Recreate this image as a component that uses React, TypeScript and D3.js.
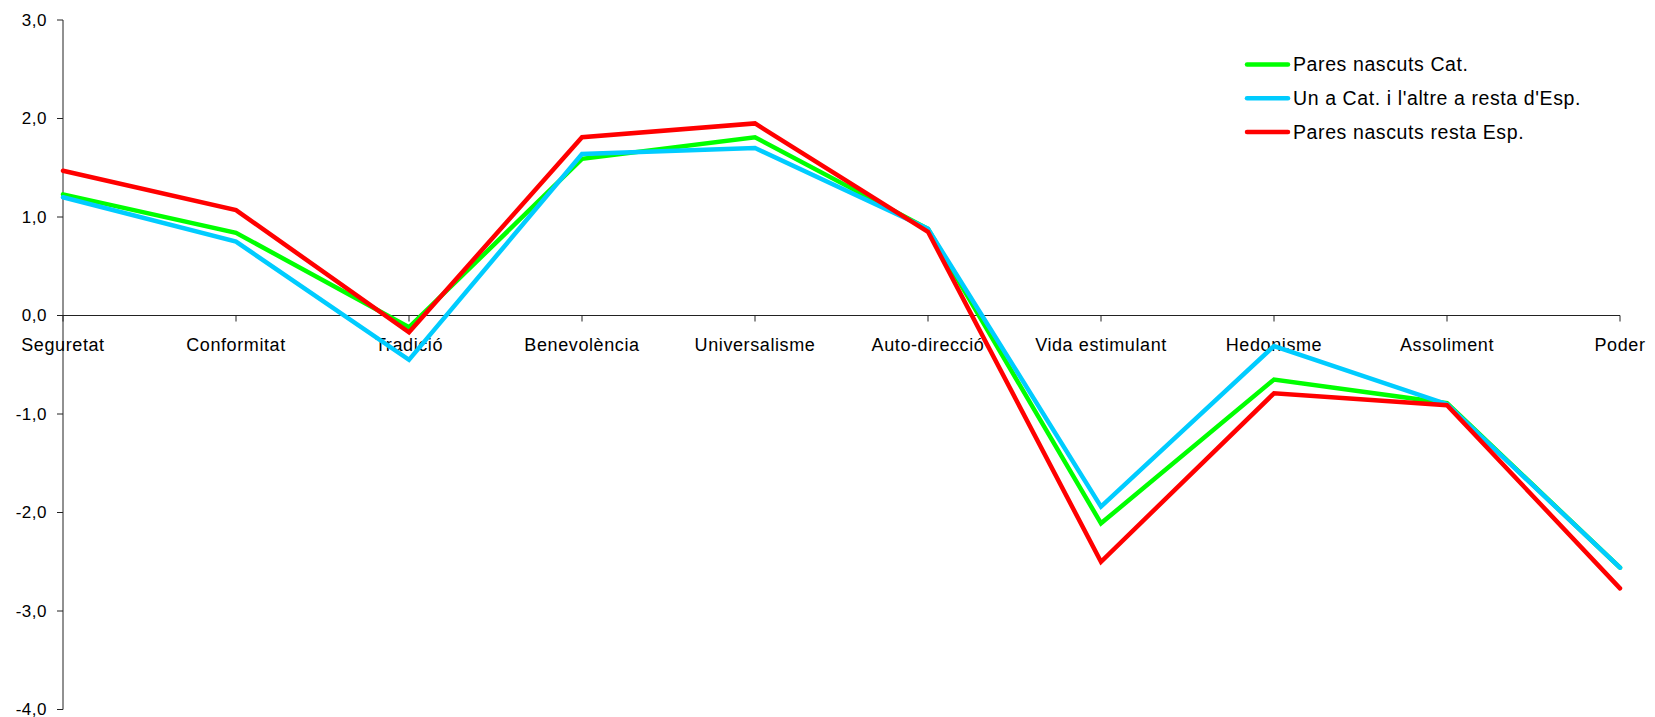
import React from "react";
import * as d3 from "d3";

const categories = [
  "Seguretat", "Conformitat", "Tradició", "Benevolència", "Universalisme",
  "Auto-direcció", "Vida estimulant", "Hedonisme", "Assoliment", "Poder",
];
const seriesNames = [
  "Pares nascuts Cat.",
  "Un a Cat. i l'altre a resta d'Esp.",
  "Pares nascuts resta Esp.",
];
const seriesColors = ["#00ff00", "#00ccff", "#ff0000"];
const greenValues = [1.23, 0.84, -0.12, 1.59, 1.81, 0.88, -2.11, -0.65, -0.89, -2.56];
const blueValues = [1.2, 0.75, -0.45, 1.64, 1.7, 0.88, -1.94, -0.31, -0.9, -2.56];
const redValues = [1.47, 1.07, -0.17, 1.81, 1.95, 0.85, -2.5, -0.79, -0.91, -2.77];
const yTicks = [3, 2, 1, 0, -1, -2, -3, -4];

const W = 1655;
const H = 717;
const FONT = "'Liberation Sans', Arial, sans-serif";

export default function App() {
  const x = d3.scalePoint<string>().domain(categories).range([63, 1620]).padding(0);
  const y = d3.scaleLinear().domain([-4, 3]).range([709.5, 20]);
  const line = d3
    .line<number>()
    .x((_, i) => x(categories[i]) as number)
    .y((d) => y(d));
  const all = [greenValues, blueValues, redValues];
  const fmt = (v: number) => v.toFixed(1).replace(".", ",");

  return (
    <svg
      width={W}
      height={H}
      style={{ position: "absolute", left: 0, top: 0, background: "#fff" }}
      fontFamily={FONT}
    >
      {/* Y axis */}
      <line x1={63} x2={63} y1={y(3)} y2={y(-4)} stroke="#222" strokeWidth={1} />
      {yTicks.map((t) => (
        <g key={t}>
          <line x1={57} x2={63} y1={y(t)} y2={y(t)} stroke="#222" strokeWidth={1} />
          <text x={47} y={y(t)} dy="0.35em" textAnchor="end" fontSize={17} letterSpacing={0.5} fill="#000">
            {fmt(t)}
          </text>
        </g>
      ))}
      {/* X axis at zero */}
      <line x1={63} x2={1620} y1={y(0)} y2={y(0)} stroke="#222" strokeWidth={1} />
      {categories.map((c) => (
        <g key={c}>
          <line
            x1={x(c)}
            x2={x(c)}
            y1={y(0)}
            y2={y(0) + 6}
            stroke="#222"
            strokeWidth={1}
          />
          <text
            x={x(c)}
            y={y(0) + 35}
            textAnchor="middle"
            fontSize={18}
            letterSpacing={0.6}
            fill="#000"
          >
            {c}
          </text>
        </g>
      ))}
      {/* Series */}
      {all.map((vals, i) => (
        <path
          key={i}
          d={line(vals) || ""}
          fill="none"
          stroke={seriesColors[i]}
          strokeWidth={4.5}
          strokeLinejoin="miter"
          strokeLinecap="round"
        />
      ))}
      {/* Legend */}
      {seriesNames.map((n, i) => (
        <g key={n} transform={`translate(0, ${64.5 + i * 33.7})`}>
          <line x1={1247} x2={1288} y1={0} y2={0} stroke={seriesColors[i]} strokeWidth={4.5} strokeLinecap="round" />
          <text x={1293} y={0} dy="0.35em" fontSize={19.5} letterSpacing={0.6} fill="#000">
            {n}
          </text>
        </g>
      ))}
    </svg>
  );
}
